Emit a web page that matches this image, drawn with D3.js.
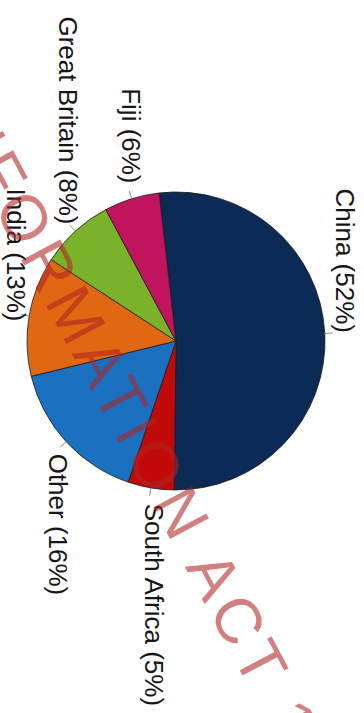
<!DOCTYPE html>
<html>
<head>
<meta charset="utf-8">
<script src="https://cdn.jsdelivr.net/npm/d3@7"></script>
<style>
  html, body { margin: 0; padding: 0; background: #fff; }
  svg { display: block; }
</style>
</head>
<body>
<svg id="chart" width="364" height="713"></svg>
<script>
// Share of total by country
const countries = ["China", "South Africa", "Other", "India", "Great Britain", "Fiji"];
const shares = [52, 5, 16, 13, 8, 6];
const sliceColors = ["#0b2a56", "#c00a0a", "#1a71bf", "#e06812", "#7ab32a", "#c0145f"];

// Where each label sits relative to the end of its slice's leader (chart frame, px)
const labelPlacement = [
  { anchor: "end",   du: -0.5,  dv: -10.7 },
  { anchor: "start", du: 15.9,  dv: 6.2 },
  { anchor: "start", du: 12,    dv: 17.6 },
  { anchor: "end",   du: 5.6,   dv: 22.4 },
  { anchor: "end",   du: -6.6,  dv: 16.6 },
  { anchor: "end",   du: -15.2, dv: 10 }
];

const watermarkText = "RELEASED UNDER THE OFFICIAL INFORMATION ACT 1982";

const W = 364, H = 713;
const svg = d3.select("#chart");
svg.append("rect").attr("width", W).attr("height", H).attr("fill", "#fff");

// The chart is laid out in its own landscape frame (713 x 364) and turned a quarter turn.
const frame = svg.append("g").attr("transform", `translate(${W},0) rotate(90)`);

const cx = 341, cy = 188, radius = 149;
const deg = Math.PI / 180;
const startAngle = -96.5 * deg;

const data = countries.map((c, i) => ({ country: c, share: shares[i], color: sliceColors[i], place: labelPlacement[i] }));

const pie = d3.pie().sort(null).value(d => d.share)
  .startAngle(startAngle).endAngle(startAngle + 2 * Math.PI);
const arcs = pie(data);
const arc = d3.arc().innerRadius(0).outerRadius(radius);

const pieG = frame.append("g").attr("transform", `translate(${cx},${cy})`);
pieG.selectAll("path.slice")
  .data(arcs)
  .join("path")
  .attr("class", "slice")
  .attr("d", arc)
  .attr("fill", d => d.data.color)
  .attr("stroke", "#1b1b1b")
  .attr("stroke-width", 0.8)
  .attr("stroke-linejoin", "round");

// leader ticks and labels
const mid = d => (d.startAngle + d.endAngle) / 2;
const edgePt = (d, r) => [r * Math.sin(mid(d)), -r * Math.cos(mid(d))];

pieG.selectAll("line.leader")
  .data(arcs)
  .join("line")
  .attr("class", "leader")
  .attr("x1", d => edgePt(d, radius)[0])
  .attr("y1", d => edgePt(d, radius)[1])
  .attr("x2", d => edgePt(d, radius + 8)[0])
  .attr("y2", d => edgePt(d, radius + 8)[1])
  .attr("stroke", "#8a8a8a")
  .attr("stroke-width", 1);

pieG.selectAll("text.label")
  .data(arcs)
  .join("text")
  .attr("class", "label")
  .attr("x", d => edgePt(d, radius)[0] + d.data.place.du)
  .attr("y", d => edgePt(d, radius)[1] + d.data.place.dv)
  .attr("text-anchor", d => d.data.place.anchor)
  .attr("font-family", "'Liberation Sans', Arial, sans-serif")
  .attr("font-size", 26)
  .attr("fill", "#161616")
  .text(d => `${d.data.country} (${d.data.share}%)`);

// Release stamp across the page
const wmAngle = 62;
const wmSize = 64;
const wm = svg.append("text")
  .attr("font-family", "'Liberation Sans', Arial, sans-serif")
  .attr("font-size", wmSize)
  .attr("letter-spacing", 6)
  .attr("fill", "#b22222")
  .attr("fill-opacity", 0.58)
  .text(watermarkText);
const node = wm.node();
const cIdx = watermarkText.indexOf("ACT") + 1;
const along = node.getSubStringLength(0, cIdx) + node.getSubStringLength(cIdx, 1) / 2;
const a = wmAngle * deg;
const dir = [Math.cos(a), Math.sin(a)];
const up = [Math.sin(a), -Math.cos(a)];
const capHalf = 0.716 * wmSize / 2;
const target = [240, 622];
const ox = target[0] - along * dir[0] - capHalf * up[0];
const oy = target[1] - along * dir[1] - capHalf * up[1];
wm.attr("transform", `translate(${ox},${oy}) rotate(${wmAngle})`);
</script>
</body>
</html>
